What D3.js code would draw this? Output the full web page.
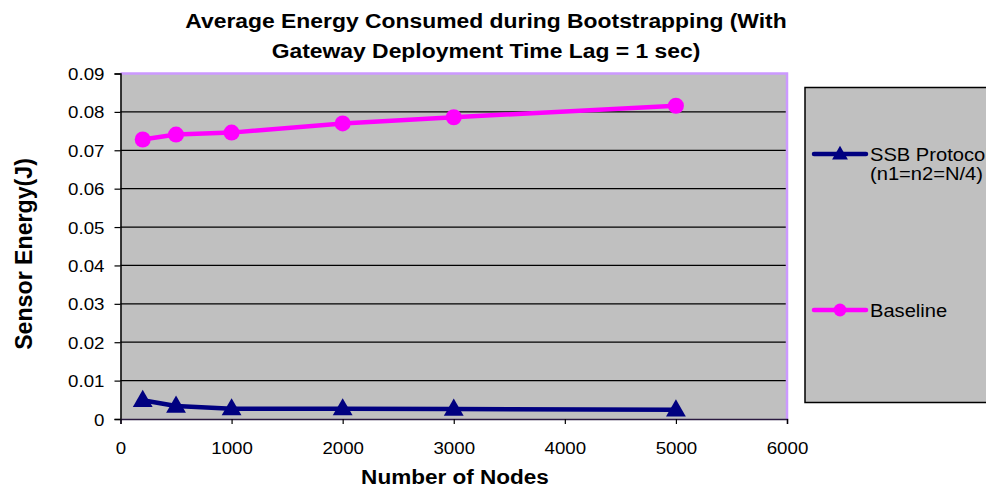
<!DOCTYPE html>
<html>
<head>
<meta charset="utf-8">
<script src="https://cdn.jsdelivr.net/npm/d3@7"></script>
<style>
  html, body { margin: 0; padding: 0; background: #fff; }
  svg { display: block; font-family: "Liberation Sans", Arial, sans-serif; }
</style>
</head>
<body>
<svg id="chart" width="986" height="488"></svg>
<script>
// Nodes in the network
const nodeCounts = [200, 500, 1000, 2000, 3000, 5000];
// Average sensor energy (J) per protocol
const ssbEnergy = [0.0049, 0.0034, 0.0027, 0.0027, 0.0026, 0.0024];
const baselineEnergy = [0.0728, 0.0741, 0.0746, 0.0770, 0.0786, 0.0816];
// Axis ticks
const xTicks = [0, 1000, 2000, 3000, 4000, 5000, 6000];
const yTicks = [0, 0.01, 0.02, 0.03, 0.04, 0.05, 0.06, 0.07, 0.08, 0.09];
const titleLines = ["Average Energy Consumed during Bootstrapping (With", "Gateway Deployment Time Lag = 1 sec)"];

const series = [
  { name: ["SSB Protocol", "(n1=n2=N/4)"], values: ssbEnergy, color: "#000080", marker: "triangle" },
  { name: ["Baseline"], values: baselineEnergy, color: "#ff00ff", marker: "circle" }
];

const svg = d3.select("#chart");
const plot = { left: 120.5, right: 787, top: 73.5, bottom: 419 };

const x = d3.scaleLinear().domain([0, 6000]).range([plot.left, plot.right]);
const y = d3.scaleLinear().domain([0, 0.09]).range([plot.bottom, plot.top]);

// Plot background
svg.append("rect")
  .attr("x", plot.left).attr("y", plot.top)
  .attr("width", plot.right - plot.left).attr("height", plot.bottom - plot.top)
  .attr("fill", "#c0c0c0");

// Horizontal gridlines
svg.append("g")
  .selectAll("line")
  .data(yTicks.filter(d => d > 0 && d < 0.09))
  .join("line")
  .attr("x1", plot.left).attr("x2", plot.right)
  .attr("y1", d => y(d)).attr("y2", d => y(d))
  .attr("stroke", "#000").attr("stroke-width", 1.2);

// Top and right plot border
svg.append("path")
  .attr("d", `M${plot.left},${plot.top}H${plot.right}V${plot.bottom}`)
  .attr("fill", "none").attr("stroke", "#cc99ff").attr("stroke-width", 2.5);

const tickFont = 17;
const hStretch = 1.1;

// Y axis
const yAxis = svg.append("g")
  .attr("transform", `translate(${plot.left},0)`)
  .call(d3.axisLeft(y).tickValues(yTicks).tickSize(6).tickPadding(0)
    .tickFormat(d => d === 0 ? "0" : d3.format(".2f")(d)));
yAxis.select(".domain").attr("stroke", "#000").attr("stroke-width", 1.5);
yAxis.selectAll(".tick line").attr("stroke", "#000").attr("stroke-width", 1.2);
yAxis.selectAll(".tick text")
  .attr("font-size", tickFont).attr("fill", "#000")
  .attr("x", null).attr("dy", null)
  .attr("transform", `translate(-16,6) scale(${hStretch},1)`);

// X axis
const xAxis = svg.append("g")
  .attr("transform", `translate(0,${plot.bottom})`)
  .call(d3.axisBottom(x).tickValues(xTicks).tickSize(5).tickPadding(0).tickFormat(d3.format("d")));
xAxis.select(".domain").attr("stroke", "#2a1a40").attr("stroke-width", 1.5);
xAxis.selectAll(".tick line").attr("stroke", "#000").attr("stroke-width", 1.2);
xAxis.selectAll(".tick text")
  .attr("font-size", tickFont).attr("fill", "#000")
  .attr("y", null).attr("dy", null)
  .attr("transform", `translate(0,35) scale(${hStretch},1)`);

// Series lines and markers
const line = d3.line().x((d, i) => x(nodeCounts[i])).y(d => y(d));

function drawMarker(g, type, color, cx, cy, scale) {
  if (type === "circle") {
    g.append("circle").attr("cx", cx).attr("cy", cy).attr("r", 8 * scale).attr("fill", color);
  } else {
    g.append("path")
      .attr("d", d3.symbol().type(d3.symbolTriangle).size(170 * scale * scale)())
      .attr("transform", `translate(${cx},${cy + 1})`)
      .attr("fill", color);
  }
}

series.forEach(s => {
  const g = svg.append("g");
  g.append("path")
    .attr("d", line(s.values))
    .attr("fill", "none").attr("stroke", s.color).attr("stroke-width", 4.5)
    .attr("stroke-linejoin", "round");
  s.values.forEach((v, i) => drawMarker(g, s.marker, s.color, x(nodeCounts[i]), y(v), 1));
});

// Title
svg.append("g").selectAll("text")
  .data(titleLines)
  .join("text")
  .attr("transform", (d, i) => `translate(486,${28 + i * 29.5}) scale(${hStretch},1)`)
  .attr("text-anchor", "middle")
  .attr("font-size", 20.8).attr("font-weight", "bold").attr("fill", "#000")
  .text(d => d);

// Axis titles
svg.append("text")
  .attr("transform", `translate(455,484) scale(${hStretch},1)`)
  .attr("text-anchor", "middle")
  .attr("font-size", 20.5).attr("font-weight", "bold").attr("fill", "#000")
  .text("Number of Nodes");

svg.append("text")
  .attr("transform", "translate(31.5,254) rotate(-90) scale(1.13,1.2)")
  .attr("text-anchor", "middle")
  .attr("font-size", 20.5).attr("font-weight", "bold").attr("fill", "#000")
  .text("Sensor Energy(J)");

// Legend
const legend = svg.append("g");
legend.append("rect")
  .attr("x", 805).attr("y", 87.5).attr("width", 300).attr("height", 315)
  .attr("fill", "#c0c0c0").attr("stroke", "#000").attr("stroke-width", 1.5);

const legendRows = [154, 310];
series.forEach((s, i) => {
  const ly = legendRows[i];
  legend.append("line")
    .attr("x1", 814).attr("x2", 866).attr("y1", ly).attr("y2", ly)
    .attr("stroke", s.color).attr("stroke-width", 4.5).attr("stroke-linecap", "round");
  drawMarker(legend, s.marker, s.color, 840, ly, 0.8);
  s.name.forEach((t, j) => {
    legend.append("text")
      .attr("transform", `translate(870,${ly + 7 + j * 19}) scale(${hStretch},1)`)
      .attr("font-size", 18.3).attr("fill", "#000")
      .text(t);
  });
});
</script>
</body>
</html>
